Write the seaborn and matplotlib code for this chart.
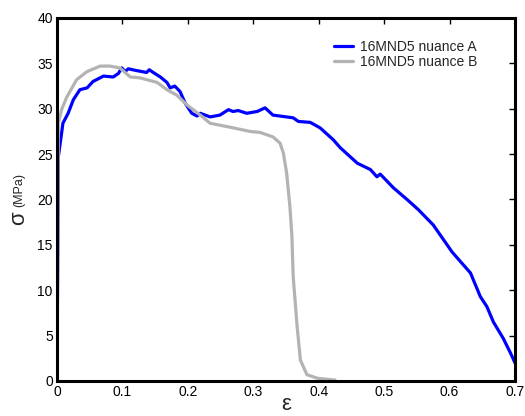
import numpy as np
import pandas as pd
import matplotlib
matplotlib.use("Agg")
import matplotlib.pyplot as plt
import seaborn as sns

# Series A (blue)
eps_a = [0.0, 0.002, 0.007, 0.009, 0.017, 0.025, 0.035, 0.046, 0.055, 0.071, 0.086, 0.094,
         0.099, 0.104, 0.109, 0.122, 0.137, 0.141, 0.147, 0.158, 0.168, 0.173, 0.180, 0.188,
         0.196, 0.206, 0.214, 0.219, 0.234, 0.249, 0.262, 0.269, 0.277, 0.290, 0.306, 0.318,
         0.330, 0.361, 0.369, 0.387, 0.402, 0.422, 0.433, 0.459, 0.479, 0.489, 0.494, 0.514,
         0.535, 0.552, 0.575, 0.604, 0.632, 0.647, 0.657, 0.667, 0.682, 0.693, 0.700]
sig_a = [0.0, 24.7, 27.3, 28.4, 29.5, 31.0, 32.1, 32.3, 33.0, 33.6, 33.5, 33.9,
         34.5, 34.1, 34.4, 34.2, 34.0, 34.3, 34.0, 33.5, 32.9, 32.3, 32.5, 31.9,
         30.6, 29.5, 29.2, 29.5, 29.1, 29.3, 29.9, 29.7, 29.8, 29.5, 29.7, 30.1,
         29.3, 29.0, 28.6, 28.5, 27.9, 26.6, 25.7, 24.0, 23.3, 22.5, 22.8, 21.3,
         20.0, 18.9, 17.2, 14.2, 11.9, 9.3, 8.2, 6.5, 4.7, 3.1, 2.0]

# Series B (grey)
eps_b = [0.0, 0.002, 0.007, 0.015, 0.030, 0.046, 0.066, 0.081, 0.096, 0.112, 0.127, 0.153,
         0.168, 0.183, 0.199, 0.219, 0.234, 0.269, 0.295, 0.310, 0.330, 0.341, 0.346, 0.351,
         0.356, 0.359, 0.361, 0.367, 0.372, 0.382, 0.398, 0.425]
sig_b = [0.0, 28.4, 29.9, 31.3, 33.2, 34.1, 34.7, 34.7, 34.5, 33.5, 33.4, 32.9,
         32.1, 31.5, 30.4, 29.3, 28.4, 27.9, 27.5, 27.4, 26.9, 26.2, 25.1, 22.9,
         19.2, 16.0, 11.5, 6.0, 2.3, 0.7, 0.3, 0.1]

labels = ["16MND5 nuance A", "16MND5 nuance B"]
x_ticks = [0, 0.1, 0.2, 0.3, 0.4, 0.5, 0.6, 0.7]
x_tick_labels = ["0", "0.1", "0.2", "0.3", "0.4", "0.5", "0.6", "0.7"]
y_ticks = [0, 5, 10, 15, 20, 25, 30, 35, 40]

df = pd.concat([
    pd.DataFrame({"eps": eps_a, "sig": sig_a, "serie": labels[0]}),
    pd.DataFrame({"eps": eps_b, "sig": sig_b, "serie": labels[1]}),
])

sns.set_style("white")
plt.rcParams['font.family'] = ['Liberation Sans', 'DejaVu Sans']

fig = plt.figure(figsize=(5.25, 4.16), dpi=100)
ax = fig.add_axes([57/525, 1 - 381/416, (515-57)/525, (381-18)/416])

sns.lineplot(data=df, x="eps", y="sig", hue="serie",
             palette={labels[0]: "#0000ff", labels[1]: "#b3b3b3"},
             linewidth=2.3, ax=ax, estimator=None, sort=False)

ax.set_xlim(0, 0.7)
ax.set_ylim(0, 40)
ax.set_xticks(x_ticks)
ax.set_xticklabels(x_tick_labels)
ax.set_yticks(y_ticks)
ax.tick_params(direction="in", length=4, width=1, labelsize=10, colors="black",
               top=True, right=True, labeltop=False, labelright=False, pad=3)
for s in ax.spines.values():
    s.set_linewidth(2.2)
    s.set_color("black")
ax.set_xlabel("")
ax.set_ylabel("")

leg = ax.legend(frameon=False, loc="upper right", fontsize=10,
                handlelength=1.4, handletextpad=0.5, labelspacing=0.1,
                bbox_to_anchor=(0.945, 0.975))
for line in leg.get_lines():
    line.set_linewidth(2.3)

fig.text(19/525, 1 - 190/416, "(MPa)", rotation=90, ha="center", va="center", fontsize=9)
fig.text(19/525, 1 - 218/416, "σ", rotation=90, ha="center", va="center", fontsize=16)
fig.text(286/525, 1 - 405/416, "ε", ha="center", va="center", fontsize=16)

fig.savefig("out.png", dpi=100)
